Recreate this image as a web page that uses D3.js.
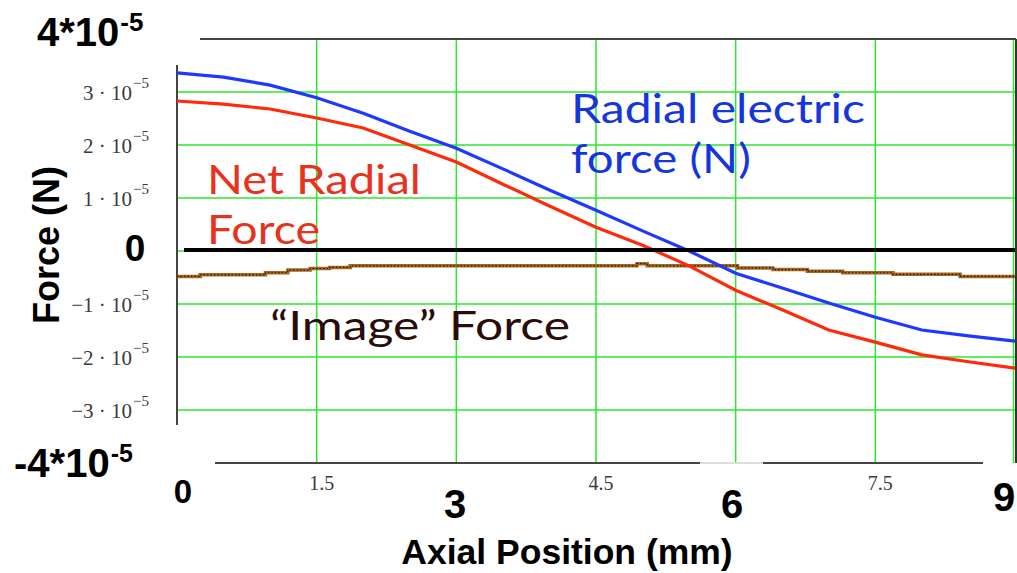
<!DOCTYPE html>
<html>
<head>
<meta charset="utf-8">
<script src="https://cdn.jsdelivr.net/npm/d3@7"></script>
<style>
  body { margin: 0; background: #fff; }
  svg { display: block; }
  .big { font-family: 'Liberation Sans', Arial, sans-serif; font-weight: bold; fill: #000; }
  .tick { font-family: 'Liberation Serif', 'Times New Roman', serif; fill: #3a3a3a; }
  .legend { font-family: 'Lato', 'Open Sans', sans-serif; }
</style>
</head>
<body>
<svg class="chartSVG" width="1017" height="573"></svg>
<script>
// axial position (mm) and forces (units of 1e-5 N)
const axialPos = [0, 0.5, 1, 1.5, 2, 2.5, 3, 3.5, 4, 4.5, 5, 5.5, 6, 6.5, 7, 7.5, 8, 8.5, 9];
const radialElectric = [3.36, 3.28, 3.13, 2.89, 2.60, 2.26, 1.94, 1.55, 1.15, 0.77, 0.38, 0.0, -0.42, -0.70, -0.98, -1.25, -1.49, -1.60, -1.70];
const netRadial = [2.83, 2.77, 2.68, 2.51, 2.32, 2.00, 1.68, 1.26, 0.85, 0.45, 0.11, -0.28, -0.74, -1.11, -1.49, -1.72, -1.96, -2.09, -2.21];

// the "image" force is drawn as a staircase
const imagePos = [0, 0.25, 0.95, 1.19, 1.43, 1.64, 1.86, 4.94, 5.05, 6.02, 6.40, 6.77, 7.15, 7.69, 8.41, 9.0];
const imageForce = [-0.48, -0.45, -0.41, -0.36, -0.33, -0.31, -0.28, -0.24, -0.28, -0.32, -0.35, -0.38, -0.41, -0.44, -0.48, -0.48];

const yGridVals = [-3, -2, -1, 0, 1, 2, 3];
const yTickVals = [3, 2, 1, -1, -2, -3];
const xGridVals = [1.5, 3, 4.5, 6, 7.5, 9];
const xSmallTicks = ['1.5', '4.5', '7.5'];

const svg = d3.select('svg.chartSVG');

const x = d3.scaleLinear().domain([0, 9]).range([177, 1015]);
const y = d3.scaleLinear().domain([-4, 4]).range([463, 39]);

const green = '#2ee62e';

// grid
svg.append('g')
    .attr('class', 'hGrid')
    .selectAll('line')
    .data(yGridVals)
    .enter()
    .append('line')
    .attr('x1', x(0))
    .attr('x2', x(9))
    .attr('y1', d => y(d))
    .attr('y2', d => y(d))
    .style('stroke', green)
    .style('stroke-width', 1.5);

svg.append('g')
    .attr('class', 'vGrid')
    .selectAll('line')
    .data(xGridVals)
    .enter()
    .append('line')
    .attr('x1', d => x(d) - (d === 9 ? 1.5 : 0))
    .attr('x2', d => x(d) - (d === 9 ? 1.5 : 0))
    .attr('y1', y(4))
    .attr('y2', y(-4))
    .style('stroke', green)
    .style('stroke-width', 1.5);

// frame pieces, as in the original slide
const frame = svg.append('g').attr('class', 'frame');
frame.append('line')
    .attr('x1', 200).attr('x2', x(9) + 1)
    .attr('y1', y(4)).attr('y2', y(4))
    .style('stroke', '#444').style('stroke-width', 2);
frame.append('line')
    .attr('x1', x(0)).attr('x2', x(0))
    .attr('y1', 65).attr('y2', 425)
    .style('stroke', '#444').style('stroke-width', 2);
frame.append('line')
    .attr('x1', x(9) + 1).attr('x2', x(9) + 1)
    .attr('y1', y(4)).attr('y2', y(-4))
    .style('stroke', '#333').style('stroke-width', 2);
frame.append('line')
    .attr('x1', 215).attr('x2', 700)
    .attr('y1', y(-4)).attr('y2', y(-4))
    .style('stroke', '#444').style('stroke-width', 2);
frame.append('line')
    .attr('x1', 700).attr('x2', 763)
    .attr('y1', y(-4)).attr('y2', y(-4))
    .style('stroke', '#ddd').style('stroke-width', 2);
frame.append('line')
    .attr('x1', 763).attr('x2', 983)
    .attr('y1', y(-4)).attr('y2', y(-4))
    .style('stroke', '#444').style('stroke-width', 2);

// small tick labels (Mathcad style)
const yTicks = svg.append('g').attr('class', 'yTicks');
yTicks.selectAll('text.base')
    .data(yTickVals)
    .enter()
    .append('text')
    .attr('class', 'tick base')
    .attr('x', 132)
    .attr('y', d => y(d) + 8)
    .style('font-size', '21px')
    .style('text-anchor', 'end')
    .text(d => (d < 0 ? '\u2212' + Math.abs(d) : d) + ' \u00b7 10');
yTicks.selectAll('text.exp')
    .data(yTickVals)
    .enter()
    .append('text')
    .attr('class', 'tick exp')
    .attr('x', 133)
    .attr('y', d => y(d) - 4)
    .style('font-size', '15px')
    .text('\u22125');

svg.append('g')
    .attr('class', 'xTicks')
    .selectAll('text')
    .data(xSmallTicks)
    .enter()
    .append('text')
    .attr('class', 'tick')
    .attr('x', d => x(+d) + 5)
    .attr('y', 490)
    .style('font-size', '20px')
    .style('text-anchor', 'middle')
    .text(d => d);

// curves
const line = d3.line()
    .x((d, i) => x(axialPos[i]))
    .y(d => y(d));

const stepLine = d3.line()
    .x((d, i) => x(imagePos[i]))
    .y(d => y(d))
    .curve(d3.curveStepAfter);

const curves = svg.append('g').attr('class', 'curves');

curves.append('path')
    .attr('d', stepLine(imageForce))
    .style('fill', 'none')
    .style('stroke', '#a8661f')
    .style('stroke-width', 3.5);
curves.append('path')
    .attr('d', stepLine(imageForce))
    .style('fill', 'none')
    .style('stroke', '#1a1a1a')
    .style('stroke-width', 1.2)
    .style('stroke-dasharray', '1.5,2');

// zero line
svg.append('line')
    .attr('x1', 184).attr('x2', x(9))
    .attr('y1', y(0) - 1).attr('y2', y(0) - 1)
    .style('stroke', '#000')
    .style('stroke-width', 4);

curves.append('path')
    .attr('d', line(netRadial))
    .style('fill', 'none')
    .style('stroke', '#ff2a0a')
    .style('stroke-width', 3.2);

curves.append('path')
    .attr('d', line(radialElectric))
    .style('fill', 'none')
    .style('stroke', '#1f38ff')
    .style('stroke-width', 3.2);

// big hand-added axis labels
const big = svg.append('g').attr('class', 'bigLabels');
const bigExp = (base, exp, bx, by, size, expSize, rise) => {
  const t = big.append('text').attr('class', 'big')
      .attr('x', bx).attr('y', by)
      .style('font-size', size + 'px')
      .text(base);
  t.append('tspan')
      .attr('dx', 1)
      .attr('dy', -rise)
      .style('font-size', expSize + 'px')
      .text(exp);
};
bigExp('4*10', '-5', 37, 46, 40, 26, 15);
bigExp('-4*10', '-5', 14, 477, 40, 25, 15);

big.append('text').attr('class', 'big').attr('x', 135).attr('y', 261)
    .style('font-size', '37px').style('text-anchor', 'middle').text('0');

big.append('text').attr('class', 'big').attr('x', 183).attr('y', 503)
    .style('font-size', '33px').style('text-anchor', 'middle').text('0');
big.append('text').attr('class', 'big').attr('x', 455).attr('y', 518)
    .style('font-size', '40px').style('text-anchor', 'middle').text('3');
big.append('text').attr('class', 'big').attr('x', 732).attr('y', 518)
    .style('font-size', '40px').style('text-anchor', 'middle').text('6');
big.append('text').attr('class', 'big').attr('x', 993).attr('y', 511)
    .style('font-size', '40px').text('9');

big.append('text').attr('class', 'big')
    .attr('x', 567).attr('y', 564)
    .style('font-size', '35.5px').style('text-anchor', 'middle')
    .text('Axial Position (mm)');

big.append('text').attr('class', 'big')
    .attr('transform', 'translate(59,245) rotate(-90)')
    .style('font-size', '36px').style('text-anchor', 'middle')
    .text('Force (N)');

// curve labels
const labels = svg.append('g').attr('class', 'curveLabels');
const addLabel = (txt, lx, ly, w, col) => labels.append('text')
    .attr('class', 'legend')
    .attr('x', lx).attr('y', ly)
    .attr('textLength', w)
    .attr('lengthAdjust', 'spacingAndGlyphs')
    .style('font-size', '40px')
    .style('fill', col)
    .text(txt);

addLabel('Radial electric', 571, 123, 294, '#1436dc');
addLabel('force (N)', 571, 173, 180, '#1436dc');
addLabel('Net Radial', 207, 194, 214, '#e8321e');
addLabel('Force', 207, 244, 113, '#e8321e');
addLabel('\u201cImage\u201d Force', 270, 340, 300, '#2a0c0a');
</script>
</body>
</html>
